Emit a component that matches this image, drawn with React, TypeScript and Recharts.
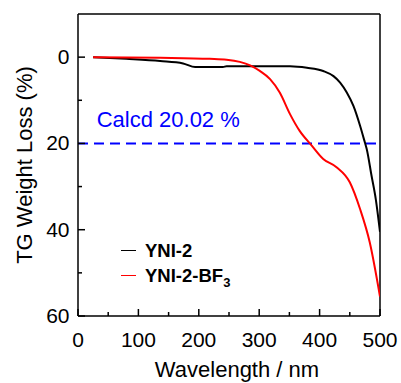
import React from 'react';
import { LineChart, Line, XAxis, YAxis, ReferenceLine, Legend } from 'recharts';

const FONT = '"Liberation Sans", Arial, Helvetica, sans-serif';

const seriesNames = ['YNI-2', 'YNI-2-BF3'];
const seriesColors = ['#000000', '#ff0000'];

const yni2X = [25, 80, 136, 174, 194, 240, 246, 301, 351, 379, 406, 423, 434, 445, 456, 467, 475, 478, 486, 493, 500];
const yni2Y = [0, 0.4, 0.9, 1.45, 2.3, 2.3, 2.1, 2.1, 2.1, 2.45, 3.2, 4.4, 5.9, 8.2, 11.3, 15.9, 19.8, 21.3, 27.5, 32.9, 40.5];

const bf3X = [25, 136, 218, 246, 268, 285, 301, 318, 334, 351, 367, 387, 406, 428, 450, 467, 483, 500];
const bf3Y = [0, 0.15, 0.4, 0.6, 1.1, 1.9, 3.2, 5.1, 8.2, 13.2, 17.1, 20.5, 23.6, 25.5, 29, 35.2, 42.9, 55.5];

const xTicks = [0, 50, 100, 150, 200, 250, 300, 350, 400, 450, 500];
const yTicks = [0, 10, 20, 30, 40, 50, 60];
const calcdValue = 20;
const calcdLabel = 'Calcd 20.02 %';

const yni2Data = yni2X.map((x, i) => ({ x, y: yni2Y[i] }));
const bf3Data = bf3X.map((x, i) => ({ x, y: bf3Y[i] }));

const XTick = (props: any) => {
  const { x, y, payload } = props;
  const v = payload.value;
  const major = v % 100 === 0;
  return (
    <g>
      <line x1={x} x2={x} y1={y} y2={y - (major ? 7 : 4)} stroke="#000" strokeWidth={1.5} />
      {major && (
        <text x={x} y={y + 31} textAnchor="middle" fontSize={21} fontFamily={FONT} fill="#000">
          {v}
        </text>
      )}
    </g>
  );
};

const YTick = (props: any) => {
  const { x, y, payload } = props;
  const v = payload.value;
  const major = v % 20 === 0;
  return (
    <g>
      <line x1={x} x2={x + (major ? 7 : 4)} y1={y} y2={y} stroke="#000" strokeWidth={1.5} />
      {major && (
        <text x={x - 8.5} y={y + 7} textAnchor="end" fontSize={21} fontFamily={FONT} fill="#000">
          {v}
        </text>
      )}
    </g>
  );
};

const renderName = (name: string) => {
  const m = name.match(/^(.*[A-Z])(\d)$/);
  if (m) {
    return (
      <>
        {m[1]}
        <span style={{ fontSize: 13, position: 'relative', top: 5 }}>{m[2]}</span>
      </>
    );
  }
  return name;
};

const renderLegend = (props: any) => {
  const { payload } = props;
  return (
    <div style={{ fontFamily: FONT, fontWeight: 'bold', fontSize: 18.5, color: '#000' }}>
      {(payload || []).map((p: any, i: number) => (
        <div key={i} style={{ display: 'flex', alignItems: 'center', height: 25, whiteSpace: 'nowrap' }}>
          <div style={{ width: 15, height: 1, background: p.color, marginRight: 9 }} />
          <span>{renderName(String(p.value))}</span>
        </div>
      ))}
    </div>
  );
};

export default function App() {
  return (
    <div style={{ position: 'absolute', left: 0, top: 0, background: '#fff' }}>
      <LineChart width={401} height={383} margin={{ top: 14, right: 21, bottom: 0, left: 18 }}>
        <XAxis
          type="number"
          dataKey="x"
          domain={[0, 500]}
          ticks={xTicks}
          interval={0}
          allowDataOverflow
          height={67}
          tickSize={0}
          tickMargin={0}
          tickLine={false}
          tick={XTick}
          axisLine={{ stroke: '#000', strokeWidth: 1.5 }}
          label={(p: any) => {
            const vb = p.viewBox;
            return (
              <text x={vb.x + vb.width / 2 + 8} y={vb.y + 61} textAnchor="middle" fontSize={22} fontFamily={FONT} fill="#000">
                Wavelength / nm
              </text>
            );
          }}
        />
        <YAxis
          type="number"
          dataKey="y"
          domain={[-10, 60]}
          reversed
          ticks={yTicks}
          interval={0}
          allowDataOverflow
          width={60}
          tickSize={0}
          tickMargin={0}
          tickLine={false}
          tick={YTick}
          axisLine={{ stroke: '#000', strokeWidth: 1.5 }}
          label={(p: any) => {
            const vb = p.viewBox;
            const cx = vb.x + 14;
            const cy = vb.y + vb.height / 2;
            return (
              <text x={cx} y={cy} transform={`rotate(-90 ${cx} ${cy})`} textAnchor="middle" fontSize={22} fontFamily={FONT} fill="#000">
                TG Weight Loss (%)
              </text>
            );
          }}
        />
        <ReferenceLine y={-10} stroke="#000" strokeWidth={1.5} />
        <ReferenceLine x={500} stroke="#000" strokeWidth={1.5} />
        <ReferenceLine
          y={calcdValue}
          stroke="#0000ff"
          strokeWidth={2}
          strokeDasharray="10 6"
          label={(p: any) => {
            const vb = p.viewBox;
            return (
              <text x={vb.x + 18.7} y={vb.y - 16} fontSize={22} fontFamily={FONT} fill="#0000ff">
                {calcdLabel}
              </text>
            );
          }}
        />
        <Line
          data={yni2Data}
          dataKey="y"
          name={seriesNames[0]}
          type="monotone"
          stroke={seriesColors[0]}
          strokeWidth={2}
          dot={false}
          isAnimationActive={false}
        />
        <Line
          data={bf3Data}
          dataKey="y"
          name={seriesNames[1]}
          type="monotone"
          stroke={seriesColors[1]}
          strokeWidth={2}
          dot={false}
          isAnimationActive={false}
        />
        <Legend
          layout="vertical"
          align="center"
          verticalAlign="middle"
          content={renderLegend}
          wrapperStyle={{ position: 'absolute', left: 121, top: 238, width: 'auto' }}
        />
      </LineChart>
    </div>
  );
}
